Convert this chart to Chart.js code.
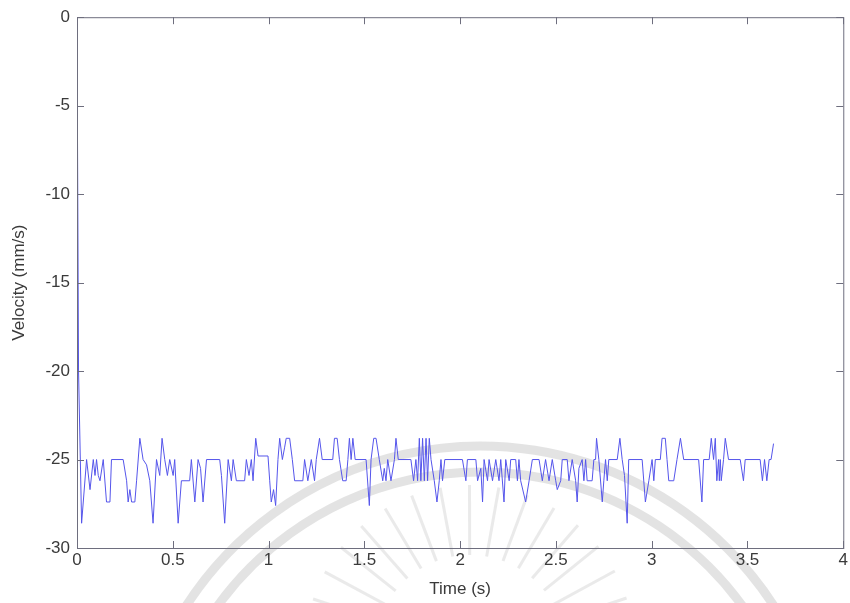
<!DOCTYPE html>
<html>
<head>
<meta charset="utf-8">
<script src="https://cdn.jsdelivr.net/npm/chart.js@4"></script>
<style>
  html, body { margin: 0; padding: 0; background: #fff; }
  #wrap { width: 850px; height: 603px; position: relative; }
</style>
</head>
<body>
<div id="wrap"><canvas id="velChart"></canvas></div>
<script>
// Velocity trace (time in s, velocity in mm/s)
const times = [
    0, 0.008, 0.024, 0.05, 0.068, 0.085, 0.094, 0.102, 0.111, 0.12, 0.137, 0.154, 0.172, 0.18, 0.241,
    0.259, 0.267, 0.276, 0.285, 0.302, 0.311, 0.328, 0.345, 0.363, 0.38, 0.397, 0.415, 0.432, 0.444,
    0.458, 0.472, 0.484, 0.502, 0.51, 0.528, 0.545, 0.588, 0.597, 0.615, 0.632,
    0.645, 0.658, 0.676, 0.745, 0.754, 0.771, 0.789, 0.806, 0.815, 0.832, 0.875, 0.884, 0.898, 0.91,
    0.919, 0.933, 0.945, 0.997, 1.006, 1.014, 1.026, 1.037, 1.049, 1.058, 1.072, 1.084, 1.092, 1.11,
    1.124, 1.136, 1.179, 1.188, 1.205, 1.223, 1.24, 1.249, 1.266, 1.28,
    1.335, 1.344, 1.358, 1.37, 1.387, 1.405, 1.414, 1.422, 1.431, 1.44, 1.452, 1.509, 1.526, 1.535,
    1.549, 1.561, 1.578, 1.596, 1.604, 1.613, 1.622, 1.639, 1.657, 1.665, 1.677, 1.743, 1.757, 1.769,
    1.778, 1.787, 1.795, 1.804, 1.813, 1.822, 1.83, 1.839, 1.848, 1.865, 1.879, 1.891, 1.9, 1.908, 1.92,
    2.012, 2.03, 2.038, 2.082, 2.091, 2.108, 2.117, 2.125, 2.143, 2.151, 2.169, 2.186, 2.203, 2.212,
    2.229, 2.238, 2.256, 2.264, 2.29, 2.299, 2.307, 2.316, 2.342, 2.36, 2.377, 2.412, 2.429, 2.446,
    2.464, 2.481, 2.499, 2.507, 2.525, 2.533, 2.559, 2.568, 2.585, 2.603,
    2.611, 2.62, 2.637, 2.646, 2.655, 2.663, 2.689, 2.698, 2.707, 2.712, 2.724, 2.742, 2.75, 2.759,
    2.768, 2.776, 2.82, 2.834, 2.846, 2.858, 2.872, 2.88, 2.95, 2.967, 2.985, 3.002, 3.011, 3.019,
    3.045, 3.054, 3.071, 3.08, 3.089, 3.115, 3.132, 3.15, 3.167, 3.245, 3.262, 3.271,
    3.3, 3.311, 3.323, 3.332, 3.34, 3.349, 3.353, 3.358, 3.363, 3.375, 3.384, 3.401, 3.462, 3.479,
    3.488, 3.566, 3.578, 3.589, 3.601, 3.613, 3.623, 3.636
];
const velocity = [
    -0.6, -20, -28.6, -25, -26.7, -25, -25.9, -25, -25.9, -26.2, -25, -27.4, -27.4, -25, -25,
    -26.2, -27.4, -26.7, -27.4, -27.4, -26.2, -23.8, -25, -25.3, -26.2, -28.6, -25, -25.9, -23.8,
    -25, -25.9, -25, -25.9, -25, -28.6, -26.2, -26.2, -25, -27.4, -25,
    -25.5, -27.4, -25, -25, -25.9, -28.6, -25, -26.2, -25, -26.2, -26.2, -25, -25.9, -25,
    -26.2, -23.8, -24.8, -24.8, -26.2, -27.4, -26.7, -27.6, -25, -23.8, -25, -24.3, -23.8, -23.8,
    -25, -26.2, -26.2, -25, -26.2, -25, -26.2, -25, -23.8, -25,
    -25, -23.8, -23.8, -25, -26.2, -26.2, -25, -23.8, -25, -23.8, -25, -25, -27.6, -25,
    -23.8, -23.8, -25, -26.2, -25.5, -26.2, -25, -26.2, -25, -23.8, -25, -25, -26.2, -25,
    -26.2, -23.8, -26.2, -23.8, -26.2, -23.8, -26.2, -23.8, -25, -26.2, -27.4, -26.2, -25, -26.2, -25,
    -25, -26.2, -25, -25, -26.2, -25.5, -27.4, -25, -26.2, -25, -26.2, -25, -26.2, -25,
    -27.4, -25, -26.2, -25, -25, -26.2, -25, -26.2, -27.4, -26.2, -25, -25, -26.2, -25,
    -26.2, -25, -26.2, -26.7, -26.2, -25, -25, -26.2, -25, -26.2,
    -27.4, -25.5, -25, -26.2, -25, -26.2, -26.2, -25, -25, -23.8, -25, -27.4, -26.2, -25,
    -26.2, -25, -25, -23.8, -25, -25.9, -28.6, -25, -25, -27.4, -26.2, -25, -26.2, -25,
    -25, -23.8, -23.8, -25, -26.2, -26.2, -25, -23.8, -25, -25, -27.4, -25,
    -25, -23.8, -25, -23.8, -26.2, -25, -26.2, -25, -26.2, -25, -23.8, -25, -25, -26.2,
    -25, -25, -26.2, -25, -26.2, -25, -25, -24.1
];

const xTicks = [0, 0.5, 1, 1.5, 2, 2.5, 3, 3.5, 4];
const yTicks = [0, -5, -10, -15, -20, -25, -30];

const frameColor = '#6e6e7e';
const textColor = '#3a3a3a';
const fontFamily = "'Liberation Sans', Arial, sans-serif";

// faint watermark behind the plot (arcs + rays)
const watermark = {
    id: 'watermark',
    beforeDraw(chart) {
        const c = chart.ctx;
        c.save();
        c.strokeStyle = 'rgba(215,215,215,0.7)';
        c.lineWidth = 9;
        [350, 324].forEach(r => {
            c.beginPath();
            c.arc(480, 796, r, Math.PI * 1.05, Math.PI * 1.95);
            c.stroke();
        });
        c.strokeStyle = 'rgba(220,220,220,0.6)';
        c.lineWidth = 3;
        for (let i = 0; i < 15; i++) {
            const a = Math.PI * (1.1 + i * 0.057);
            c.beginPath();
            c.moveTo(470 + Math.cos(a) * 95, 650 + Math.sin(a) * 95);
            c.lineTo(470 + Math.cos(a) * 165, 650 + Math.sin(a) * 165);
            c.stroke();
        }
        c.restore();
    }
};

// MATLAB-style box with inward ticks on all four sides
const boxFrame = {
    id: 'boxFrame',
    afterDraw(chart) {
        const { ctx: c, chartArea: a, scales } = chart;
        const len = 7;
        c.save();
        c.strokeStyle = frameColor;
        c.lineWidth = 1;
        c.strokeRect(a.left + 0.5, a.top + 0.5, a.right - a.left, a.bottom - a.top);
        c.beginPath();
        xTicks.forEach(v => {
            const px = Math.round(scales.x.getPixelForValue(v)) + 0.5;
            c.moveTo(px, a.bottom); c.lineTo(px, a.bottom - len);
            c.moveTo(px, a.top); c.lineTo(px, a.top + len);
        });
        yTicks.forEach(v => {
            const py = Math.round(scales.y.getPixelForValue(v)) + 0.5;
            c.moveTo(a.left, py); c.lineTo(a.left + len, py);
            c.moveTo(a.right, py); c.lineTo(a.right - len, py);
        });
        c.stroke();
        c.restore();
    }
};

const ctx = document.getElementById('velChart').getContext('2d');
const velChart = new Chart(ctx, {
    type: 'line',
    data: {
        datasets: [{
            data: times.map((t, i) => ({ x: t, y: velocity[i] })),
            borderColor: 'rgb(85, 85, 235)',
            borderWidth: 1,
            pointRadius: 0,
            tension: 0,
            fill: false
        }]
    },
    options: {
        responsive: true,
        maintainAspectRatio: false,
        animation: false,
        layout: { padding: { top: 15, right: 5, left: 0, bottom: 0 } },
        scales: {
            x: {
                type: 'linear',
                min: 0,
                max: 4,
                afterBuildTicks: s => { s.ticks = xTicks.map(v => ({ value: v })); },
                afterFit: s => { s.height = 55; },
                grid: { display: false, drawTicks: false },
                border: { display: false },
                ticks: {
                    color: textColor,
                    padding: 2,
                    maxRotation: 0,
                    font: { family: fontFamily, size: 17 },
                    callback: v => String(v)
                },
                title: {
                    display: true,
                    text: 'Time (s)',
                    color: textColor,
                    padding: { top: 0, bottom: 3 },
                    font: { family: fontFamily, size: 17 }
                }
            },
            y: {
                type: 'linear',
                min: -30,
                max: 0,
                afterBuildTicks: s => { s.ticks = yTicks.map(v => ({ value: v })); },
                afterFit: s => { s.width = 77; },
                grid: { display: false, drawTicks: false },
                border: { display: false },
                ticks: {
                    color: textColor,
                    padding: 7,
                    font: { family: fontFamily, size: 17 },
                    callback: v => String(v)
                },
                title: {
                    display: true,
                    text: 'Velocity (mm/s)',
                    color: textColor,
                    padding: { top: 9, bottom: 0 },
                    font: { family: fontFamily, size: 17 }
                }
            }
        },
        plugins: {
            legend: { display: false },
            tooltip: { enabled: false }
        }
    },
    plugins: [watermark, boxFrame]
});
</script>
</body>
</html>
